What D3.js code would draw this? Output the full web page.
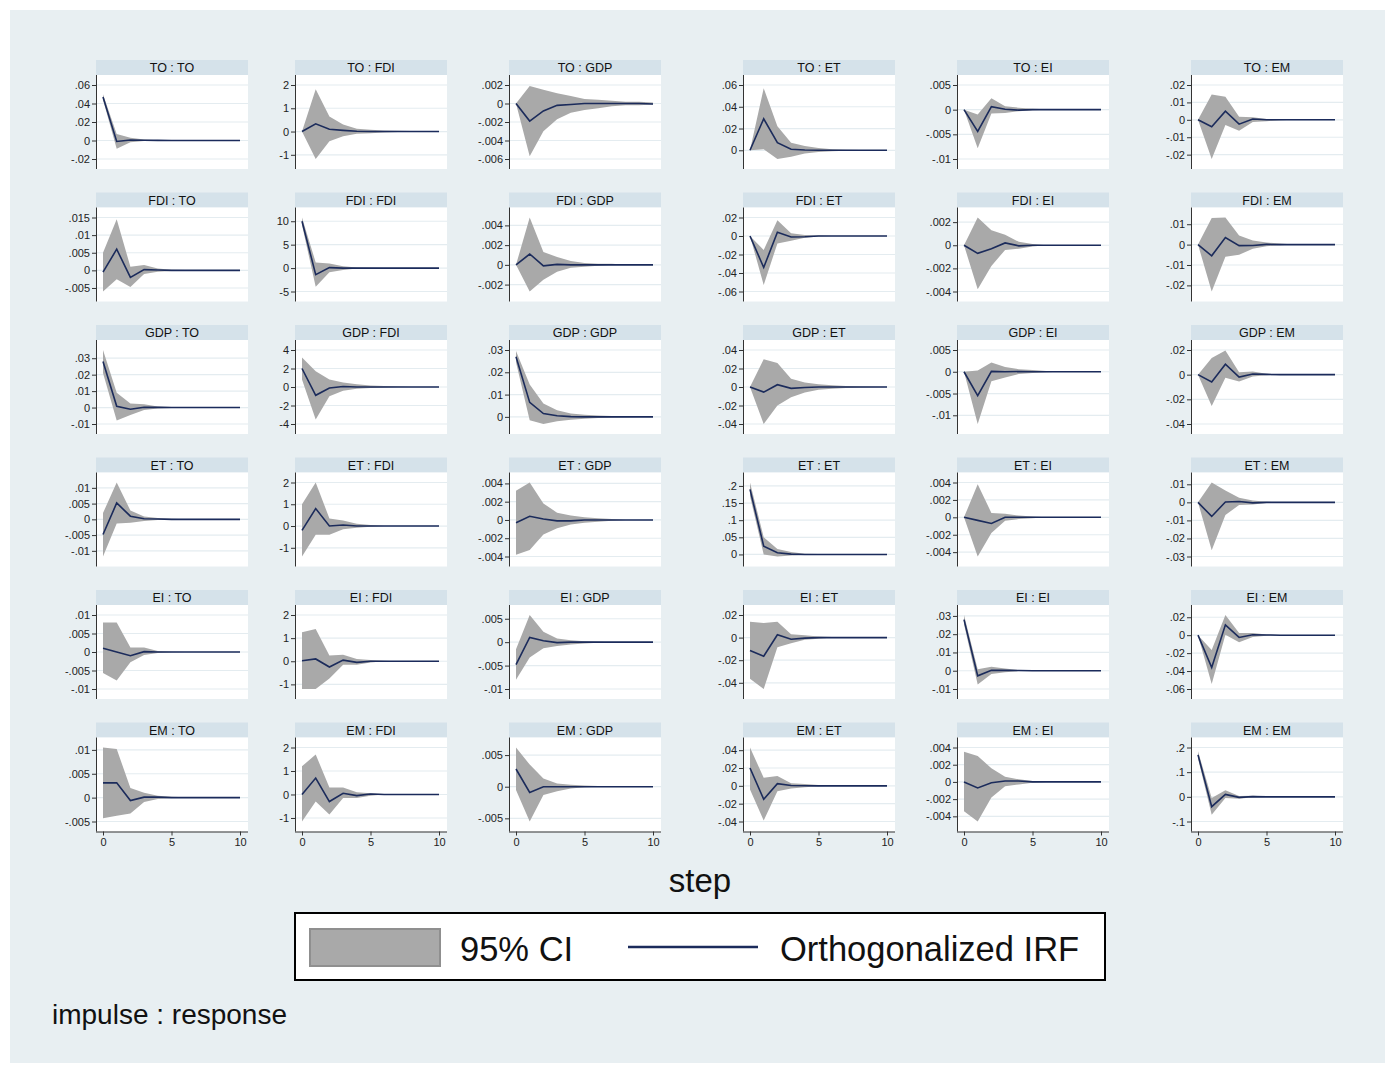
<!DOCTYPE html>
<html>
<head>
<meta charset="utf-8">
<script src="https://cdn.jsdelivr.net/npm/d3@7"></script>
<style>
  body { margin: 0; background: #fff; }
  text { font-family: "Liberation Sans", Arial, sans-serif; }
</style>
</head>
<body>
<div id="chart-area"></div>
<script>
// impulse : response, steps 0..10
const names = ["TO", "FDI", "GDP", "ET", "EI", "EM"];
const steps = [0, 1, 2, 3, 4, 5, 6, 7, 8, 9, 10];
const xTicks = [0, 5, 10];

// impulse TO
const irfTO = [
  [0.047, -0.001, 0.0005, 0.0003, 0.0001, 0, 0, 0, 0, 0, 0],
  [0, 0.33, 0.1, 0.05, 0.01, 0, 0, 0, 0, 0, 0],
  [0, -0.0019, -0.0008, -0.0002, -0.0001, 0, 0, 0, 0, 0, -0.00005],
  [0, 0.029, 0.007, 0.001, 0.0003, 0, 0, 0, 0, 0, 0],
  [0, -0.0044, 0.0006, 0.0001, -0.0001, 0, 0, 0, 0, 0, 0],
  [0, -0.004, 0.005, -0.0025, 0.0005, 0, 0, 0, 0, 0, 0]
];
const loTO = [
  [0.044, -0.009, -0.002, -0.0005, -0.0002, 0, 0, 0, 0, 0, 0],
  [0, -1.18, -0.42, -0.2, -0.1, -0.07, -0.04, -0.02, -0.01, -0.005, 0],
  [0, -0.0057, -0.003, -0.0017, -0.001, -0.0007, -0.0005, -0.0003, -0.0002, -0.0002, -0.0001],
  [0, 0.001, -0.008, -0.006, -0.003, -0.0015, -0.0008, -0.0004, -0.0002, -0.0001, 0],
  [0, -0.0078, -0.0008, -0.0007, -0.0003, -0.0001, 0, 0, 0, 0, 0],
  [0, -0.0225, -0.003, -0.0063, -0.0012, -0.0008, -0.0002, 0, 0, 0, 0]
];
const hiTO = [
  [0.05, 0.007, 0.003, 0.001, 0.0003, 0, 0, 0, 0, 0, 0],
  [0, 1.82, 0.65, 0.3, 0.12, 0.08, 0.05, 0.03, 0.02, 0.01, 0],
  [0, 0.0019, 0.0015, 0.0011, 0.0008, 0.0005, 0.0004, 0.0003, 0.0002, 0.0002, 0.0001],
  [0, 0.057, 0.022, 0.007, 0.004, 0.002, 0.001, 0.0005, 0.0002, 0.0001, 0],
  [0, -0.001, 0.0023, 0.0007, 0.0004, 0.0002, 0.0001, 0, 0, 0, 0],
  [0, 0.0145, 0.0133, 0.0018, 0.0015, 0.0005, 0.0002, 0, 0, 0, 0]
];
const ticksTO = [
  [".06", ".04", ".02", "0", "-.02"],
  ["2", "1", "0", "-1"],
  [".002", "0", "-.002", "-.004", "-.006"],
  [".06", ".04", ".02", "0"],
  [".005", "0", "-.005", "-.01"],
  [".02", ".01", "0", "-.01", "-.02"]
];

// impulse FDI
const irfFDI = [
  [-0.0005, 0.006, -0.002, 0.0002, 0.0001, 0, 0, 0, 0, 0, 0],
  [10, -1.4, 0.1, 0, 0, 0, 0, 0, 0, 0, 0],
  [0, 0.0011, -0.0001, 0.00005, 0, 0, 0, 0, 0, 0, 0],
  [0, -0.034, 0.004, -0.001, -0.0008, 0, 0, 0, 0, 0, 0],
  [0, -0.0007, -0.0003, 0.0002, -0.00005, 0, 0, 0, 0, 0, 0],
  [0, -0.0055, 0.0035, -0.0005, -0.0004, 0.0001, 0, 0, 0, 0, 0]
];
const loFDI = [
  [-0.006, -0.0025, -0.0047, -0.001, -0.0004, -0.0002, -0.0001, 0, 0, 0, 0],
  [9.2, -4.0, -0.9, -0.4, -0.1, -0.05, 0, 0, 0, 0, 0],
  [0, -0.0027, -0.0015, -0.0007, -0.0003, -0.0002, -0.0001, 0, 0, 0, 0],
  [0, -0.053, -0.008, -0.005, -0.002, -0.0005, 0, 0, 0, 0, 0],
  [0, -0.0038, -0.0018, -0.0004, -0.0003, -0.0001, 0, 0, 0, 0, 0],
  [0, -0.023, -0.006, -0.005, -0.002, -0.0008, -0.0003, 0, 0, 0, 0]
];
const hiFDI = [
  [0.005, 0.0145, 0.001, 0.0015, 0.0005, 0.0002, 0.0001, 0, 0, 0, 0],
  [10.8, 1.2, 1.0, 0.4, 0.1, 0.05, 0, 0, 0, 0, 0],
  [0, 0.0048, 0.0013, 0.0008, 0.0004, 0.0002, 0.0001, 0.0001, 0, 0, 0],
  [0, -0.015, 0.017, 0.003, 0.001, 0.0005, 0, 0, 0, 0, 0],
  [0, 0.0024, 0.0013, 0.0009, 0.0003, 0.0001, 0, 0, 0, 0, 0],
  [0, 0.013, 0.0133, 0.0045, 0.002, 0.001, 0.0005, 0, 0, 0, 0]
];
const ticksFDI = [
  [".015", ".01", ".005", "0", "-.005"],
  ["10", "5", "0", "-5"],
  [".004", ".002", "0", "-.002"],
  [".02", "0", "-.02", "-.04", "-.06"],
  [".002", "0", "-.002", "-.004"],
  [".01", "0", "-.01", "-.02"]
];

// impulse GDP
const irfGDP = [
  [0.028, 0.0008, -0.001, 0.0002, 0.0001, 0, 0, 0, 0, 0, 0],
  [2.0, -0.9, -0.1, 0.05, 0, 0, 0, 0, 0, 0, 0],
  [0.027, 0.0065, 0.0015, 0.0005, 0.0001, 0, 0, 0, 0, 0, 0],
  [0, -0.0055, 0.0025, -0.0015, -0.0005, 0, 0, 0, 0, 0, 0],
  [0, -0.0055, 0.0001, 0, 0.00005, 0, 0, 0, 0, 0, 0],
  [0, -0.006, 0.0085, -0.002, 0.0005, 0.0002, 0, 0, 0, 0, 0]
];
const loGDP = [
  [0.021, -0.0078, -0.0045, -0.0015, -0.0005, -0.0002, 0, 0, 0, 0, 0],
  [0.8, -3.5, -1.0, -0.4, -0.2, -0.1, -0.05, 0, 0, 0, 0],
  [0.0245, -0.0015, -0.0032, -0.002, -0.0013, -0.0008, -0.0005, -0.0003, -0.0002, -0.0001, 0],
  [0, -0.04, -0.02, -0.011, -0.006, -0.003, -0.002, -0.001, -0.0005, -0.0002, 0],
  [0, -0.012, -0.0022, -0.0013, -0.0005, -0.0003, -0.0001, 0, 0, 0, 0],
  [0, -0.0255, -0.0025, -0.0055, -0.0015, -0.0005, 0, 0, 0, 0, 0]
];
const hiGDP = [
  [0.035, 0.009, 0.0025, 0.002, 0.0007, 0.0003, 0, 0, 0, 0, 0],
  [3.2, 1.7, 0.8, 0.5, 0.3, 0.15, 0.1, 0.05, 0, 0, 0],
  [0.0295, 0.0145, 0.006, 0.003, 0.0015, 0.001, 0.0006, 0.0004, 0.0003, 0.0002, 0.0001],
  [0, 0.03, 0.026, 0.009, 0.005, 0.003, 0.002, 0.001, 0.0005, 0.0002, 0],
  [0, 0.0003, 0.0021, 0.0011, 0.0006, 0.0004, 0.0002, 0.0001, 0, 0, 0],
  [0, 0.0135, 0.0195, 0.002, 0.0025, 0.0007, 0.0003, 0, 0, 0, 0]
];
const ticksGDP = [
  [".03", ".02", ".01", "0", "-.01"],
  ["4", "2", "0", "-2", "-4"],
  [".03", ".02", ".01", "0"],
  [".04", ".02", "0", "-.02", "-.04"],
  [".005", "0", "-.005", "-.01"],
  [".02", "0", "-.02", "-.04"]
];

// impulse ET
const irfET = [
  [-0.0048, 0.0052, 0.001, 0.0002, 0.0001, 0, 0, 0, 0, 0, 0],
  [-0.2, 0.8, 0, 0.05, 0, 0, 0, 0, 0, 0, 0],
  [-0.0003, 0.0004, 0.0001, -0.0001, -0.0001, 0, 0, 0, 0, 0, 0],
  [0.19, 0.024, 0.005, 0.001, 0, 0, 0, 0, 0, 0, 0],
  [0, -0.00035, -0.0007, 0, 0, 0, 0, 0, 0, 0, 0],
  [0, -0.0078, 0.0002, 0.0005, -0.0003, 0, 0, 0, 0, 0, 0]
];
const loET = [
  [-0.0118, -0.0013, -0.0011, -0.0005, -0.0002, -0.0001, 0, 0, 0, 0, 0],
  [-1.4, -0.4, -0.4, -0.15, -0.08, -0.03, 0, 0, 0, 0, 0],
  [-0.0038, -0.0033, -0.0016, -0.0009, -0.0005, -0.0003, -0.0002, -0.0001, 0, 0, 0],
  [0.17, 0.0, -0.006, -0.003, -0.001, 0, 0, 0, 0, 0, 0],
  [0, -0.0045, -0.0018, -0.0004, -0.0002, -0.0001, 0, 0, 0, 0, 0],
  [0, -0.0265, -0.007, -0.0015, -0.0012, -0.0003, 0, 0, 0, 0, 0]
];
const hiET = [
  [0.002, 0.0117, 0.0028, 0.0009, 0.0004, 0.0002, 0, 0, 0, 0, 0],
  [1.0, 2.0, 0.35, 0.25, 0.1, 0.05, 0, 0, 0, 0, 0],
  [0.0032, 0.0041, 0.0018, 0.0008, 0.0005, 0.0003, 0.0002, 0.0001, 0, 0, 0],
  [0.21, 0.05, 0.016, 0.007, 0.002, 0.001, 0, 0, 0, 0, 0],
  [0, 0.0038, 0.0005, 0.0004, 0.0002, 0.0001, 0, 0, 0, 0, 0],
  [0, 0.011, 0.0065, 0.0025, 0.001, 0.0003, 0, 0, 0, 0, 0]
];
const ticksET = [
  [".01", ".005", "0", "-.005", "-.01"],
  ["2", "1", "0", "-1"],
  [".004", ".002", "0", "-.002", "-.004"],
  [".2", ".15", ".1", ".05", "0"],
  [".004", ".002", "0", "-.002", "-.004"],
  [".01", "0", "-.01", "-.02", "-.03"]
];

// impulse EI
const irfEI = [
  [0.001, 0, -0.001, 0.0001, 0, 0, 0, 0, 0, 0, 0],
  [0.02, 0.1, -0.25, 0.05, -0.05, 0, 0, 0, 0, 0, 0],
  [-0.0048, 0.001, 0.0003, -0.0001, 0, 0, 0, 0, 0, 0, 0],
  [-0.0115, -0.0165, 0.0025, -0.0015, -0.0005, 0, 0, 0, 0, 0, 0],
  [0.028, -0.0028, 0.0003, 0.0002, 0.0001, 0, 0, 0, 0, 0, 0],
  [0, -0.036, 0.0115, -0.0025, 0.0005, 0.0002, 0, 0, 0, 0, 0]
];
const loEI = [
  [-0.0057, -0.0077, -0.0028, -0.0008, -0.0003, -0.0001, 0, 0, 0, 0, 0],
  [-1.2, -1.2, -0.75, -0.15, -0.15, -0.05, 0, 0, 0, 0, 0],
  [-0.008, -0.0033, -0.0013, -0.0008, -0.0005, -0.0003, -0.0001, 0, 0, 0, 0],
  [-0.0365, -0.0455, -0.0085, -0.005, -0.002, -0.001, 0, 0, 0, 0, 0],
  [0.0255, -0.0075, -0.0018, -0.0008, -0.0002, 0, 0, 0, 0, 0, 0],
  [0, -0.0545, 0.0005, -0.008, -0.002, -0.0005, 0, 0, 0, 0, 0]
];
const hiEI = [
  [0.008, 0.008, 0.0012, 0.0012, 0.0003, 0.0001, 0, 0, 0, 0, 0],
  [1.25, 1.4, 0.25, 0.28, 0.1, 0.05, 0.02, 0, 0, 0, 0],
  [-0.0015, 0.0058, 0.0022, 0.0008, 0.0004, 0.0002, 0.0001, 0, 0, 0, 0],
  [0.014, 0.013, 0.014, 0.003, 0.002, 0.001, 0.0005, 0, 0, 0, 0],
  [0.0305, 0.0008, 0.0022, 0.0012, 0.0003, 0, 0, 0, 0, 0, 0],
  [0, -0.0165, 0.0225, 0.0025, 0.0025, 0.0008, 0.0003, 0, 0, 0, 0]
];
const ticksEI = [
  [".01", ".005", "0", "-.005", "-.01"],
  ["2", "1", "0", "-1"],
  [".005", "0", "-.005", "-.01"],
  [".02", "0", "-.02", "-.04"],
  [".03", ".02", ".01", "0", "-.01"],
  [".02", "0", "-.02", "-.04", "-.06"]
];

// impulse EM
const irfEM = [
  [0.0031, 0.0031, -0.0006, 0.0001, 0.0001, 0, 0, 0, 0, 0, 0],
  [0, 0.7, -0.3, 0.05, -0.05, 0.02, 0, 0, 0, 0, 0],
  [0.0028, -0.0009, 0, 0, 0, 0, 0, 0, 0, 0, 0],
  [0.02, -0.015, 0.0025, 0.0003, 0.0001, 0, 0, 0, 0, 0, 0],
  [0, -0.0007, -0.0001, 0.0001, 0.0001, 0, 0, 0, 0, 0, 0],
  [0.17, -0.04, 0.01, -0.002, 0.001, 0, 0, 0, 0, 0, 0]
];
const loEM = [
  [-0.0043, -0.0038, -0.0033, -0.0009, -0.0003, -0.0001, 0, 0, 0, 0, 0],
  [-1.15, -0.3, -0.85, -0.15, -0.15, -0.05, 0, 0, 0, 0, 0],
  [-0.0005, -0.0055, -0.0013, -0.0007, -0.0003, -0.0001, 0, 0, 0, 0, 0],
  [-0.004, -0.039, -0.006, -0.003, -0.0015, -0.0005, 0, 0, 0, 0, 0],
  [-0.0034, -0.0046, -0.0018, -0.0005, -0.0003, -0.0001, 0, 0, 0, 0, 0],
  [0.155, -0.073, -0.005, -0.008, -0.002, -0.001, 0, 0, 0, 0, 0]
];
const hiEM = [
  [0.0105, 0.0102, 0.002, 0.001, 0.0004, 0.0002, 0.0001, 0, 0, 0, 0],
  [1.2, 1.7, 0.3, 0.3, 0.1, 0.05, 0.02, 0, 0, 0, 0],
  [0.0062, 0.0035, 0.0013, 0.0005, 0.0003, 0.0002, 0.0001, 0, 0, 0, 0],
  [0.043, 0.009, 0.011, 0.003, 0.002, 0.001, 0, 0, 0, 0, 0],
  [0.0035, 0.003, 0.0016, 0.0006, 0.0003, 0.0001, 0.00005, 0, 0, 0, 0],
  [0.185, -0.005, 0.027, 0.003, 0.004, 0.001, 0, 0, 0, 0, 0]
];
const ticksEM = [
  [".01", ".005", "0", "-.005"],
  ["2", "1", "0", "-1"],
  [".005", "0", "-.005"],
  [".04", ".02", "0", "-.02", "-.04"],
  [".004", ".002", "0", "-.002", "-.004"],
  [".2", ".1", "0", "-.1"]
];

const irfRows = [irfTO, irfFDI, irfGDP, irfET, irfEI, irfEM];
const loRows = [loTO, loFDI, loGDP, loET, loEI, loEM];
const hiRows = [hiTO, hiFDI, hiGDP, hiET, hiEI, hiEM];
const tickRows = [ticksTO, ticksFDI, ticksGDP, ticksET, ticksEI, ticksEM];

// layout
const W = 1391, H = 1067;
const colLeft = [96, 295, 509, 743, 957, 1191];
const panelW = 152, stripH = 15, plotH = 94;
const rowTop = (r) => 60 + r * 132.5;

const bg = "#e8eff2", strip = "#d5e2ea", grid = "#e4ecf0";
const ciFill = "#a9a9a9", lineColor = "#1b2b5b";

const svg = d3
  .select("#chart-area")
  .append("svg")
  .attr("width", W)
  .attr("height", H);

svg.append("rect").attr("width", W).attr("height", H).attr("fill", "#fff");
svg
  .append("rect")
  .attr("x", 10)
  .attr("y", 10)
  .attr("width", W - 16)
  .attr("height", H - 14)
  .attr("fill", bg);

names.forEach((imp, r) => {
  names.forEach((resp, c) => {
    drawPanel(r, c, imp, resp);
  });
});

function drawPanel(r, c, imp, resp) {
  const left = colLeft[c];
  const top = rowTop(r);
  const plotTop = top + stripH;
  const plotBottom = plotTop + plotH;
  const irf = irfRows[r][c];
  const lo = loRows[r][c];
  const hi = hiRows[r][c];
  const labels = tickRows[r][c];
  const tickVals = labels.map((d) => +d);

  const g = svg.append("g");

  // strip
  g.append("rect")
    .attr("x", left)
    .attr("y", top)
    .attr("width", panelW)
    .attr("height", stripH)
    .attr("fill", strip);
  g.append("text")
    .attr("x", left + panelW / 2)
    .attr("y", top + 12)
    .attr("text-anchor", "middle")
    .attr("font-size", 12.5)
    .attr("fill", "#111")
    .text(`${imp} : ${resp}`);

  // plot area
  g.append("rect")
    .attr("x", left)
    .attr("y", plotTop)
    .attr("width", panelW)
    .attr("height", plotH)
    .attr("fill", "#fff");

  const x = d3.scaleLinear().domain([0, 10]).range([left + 7, left + 144]);
  const yMin = Math.min(d3.min(tickVals), d3.min(lo), d3.min(irf));
  const yMax = Math.max(d3.max(tickVals), d3.max(hi), d3.max(irf));
  const y = d3
    .scaleLinear()
    .domain([yMin, yMax])
    .range([plotBottom - 10, plotTop + 10]);

  // grid
  g.append("g")
    .selectAll("line")
    .data(tickVals)
    .join("line")
    .attr("x1", left)
    .attr("x2", left + panelW)
    .attr("y1", (d) => y(d))
    .attr("y2", (d) => y(d))
    .attr("stroke", grid)
    .attr("stroke-width", 1.2);

  // CI band
  const area = d3
    .area()
    .x((d, i) => x(steps[i]))
    .y0((d, i) => y(lo[i]))
    .y1((d, i) => y(hi[i]));
  g.append("path")
    .datum(steps)
    .attr("d", area)
    .attr("fill", ciFill);

  // IRF line
  const line = d3
    .line()
    .x((d, i) => x(steps[i]))
    .y((d) => y(d));
  g.append("path")
    .datum(irf)
    .attr("d", line)
    .attr("fill", "none")
    .attr("stroke", lineColor)
    .attr("stroke-width", 1.6);

  // y axis
  const yAxis = g
    .append("g")
    .attr("transform", `translate(${left},0)`)
    .call(
      d3
        .axisLeft(y)
        .tickValues(tickVals)
        .tickFormat((d, i) => labels[i])
        .tickSize(4)
        .tickPadding(2)
    );
  yAxis.select(".domain").remove();
  yAxis.selectAll("line").attr("stroke", "#333");
  yAxis
    .selectAll("text")
    .attr("font-size", 11)
    .attr("fill", "#222")
    .style("font-family", '"Liberation Sans", Arial, sans-serif');
  g.append("line")
    .attr("x1", left + 0.5)
    .attr("x2", left + 0.5)
    .attr("y1", plotTop)
    .attr("y2", plotBottom)
    .attr("stroke", "#333")
    .attr("stroke-width", 1);

  // x axis only on the bottom row
  if (r === names.length - 1) {
    const xAxis = g
      .append("g")
      .attr("transform", `translate(0,${plotBottom})`)
      .call(d3.axisBottom(x).tickValues(xTicks).tickSize(4).tickPadding(3));
    xAxis.select(".domain").remove();
    xAxis.selectAll("line").attr("stroke", "#333");
    xAxis
      .selectAll("text")
      .attr("font-size", 11)
      .attr("fill", "#222")
      .style("font-family", '"Liberation Sans", Arial, sans-serif');
    g.append("line")
      .attr("x1", left)
      .attr("x2", left + panelW)
      .attr("y1", plotBottom + 0.5)
      .attr("y2", plotBottom + 0.5)
      .attr("stroke", "#333");
  }
}

// x title
svg
  .append("text")
  .attr("x", 700)
  .attr("y", 892)
  .attr("text-anchor", "middle")
  .attr("font-size", 33)
  .attr("fill", "#111")
  .text("step");

// legend
const legend = svg.append("g");
legend
  .append("rect")
  .attr("x", 295)
  .attr("y", 913)
  .attr("width", 810)
  .attr("height", 67)
  .attr("fill", "#fff")
  .attr("stroke", "#000")
  .attr("stroke-width", 2);
legend
  .append("rect")
  .attr("x", 310)
  .attr("y", 929)
  .attr("width", 130)
  .attr("height", 37)
  .attr("fill", ciFill)
  .attr("stroke", "#8f8f8f")
  .attr("stroke-width", 2);
legend
  .append("text")
  .attr("x", 460)
  .attr("y", 961)
  .attr("font-size", 34.5)
  .attr("fill", "#111")
  .text("95% CI");
legend
  .append("line")
  .attr("x1", 628)
  .attr("x2", 758)
  .attr("y1", 947)
  .attr("y2", 947)
  .attr("stroke", lineColor)
  .attr("stroke-width", 2.5);
legend
  .append("text")
  .attr("x", 780)
  .attr("y", 961)
  .attr("font-size", 34.5)
  .attr("fill", "#111")
  .text("Orthogonalized IRF");

svg
  .append("text")
  .attr("x", 52)
  .attr("y", 1024)
  .attr("font-size", 28)
  .attr("fill", "#111")
  .text("impulse : response");
</script>
</body>
</html>
